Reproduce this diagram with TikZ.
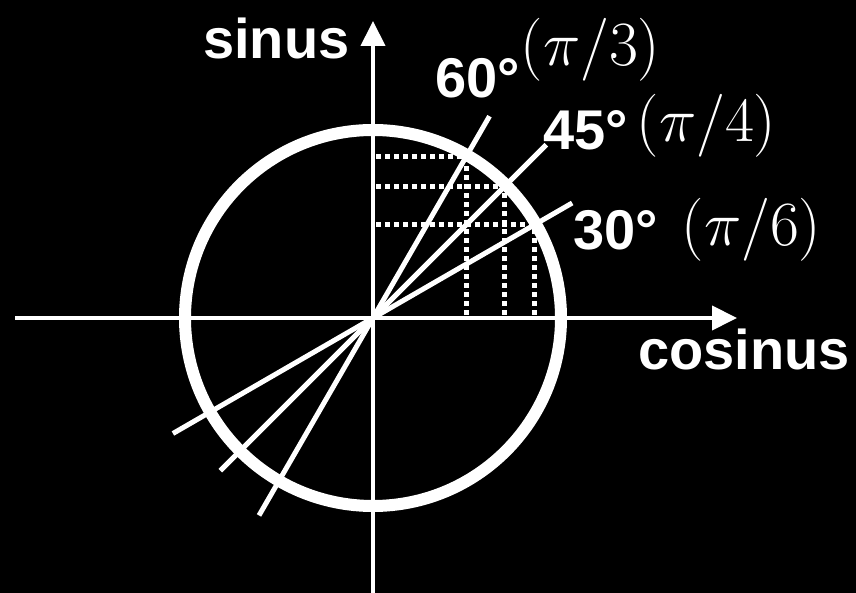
\RequirePackage{fix-cm}
\documentclass[tikz,border=0pt]{standalone}
\usepackage{fontspec}
\newfontfamily\hv{Liberation Sans}
\usetikzlibrary{arrows.meta}
\begin{document}
\begin{tikzpicture}[x=1pt,y=1pt,
  axis/.style={white,line width=4pt,-{Triangle[length=25pt,width=24pt]}},
  ray/.style={white,line width=5pt},
  dots/.style={white,line width=5pt,dash pattern=on 5pt off 4pt},
  lab/.style={text=white,inner sep=0pt,anchor=base west,font=\hv\bfseries\fontsize{56}{60}\selectfont},
  mlab/.style={text=white,inner sep=0pt,anchor=base west,font=\fontsize{63}{66}\selectfont}]
\fill[black] (0,0) rectangle (856,593);
\useasboundingbox (0,0) rectangle (856,593);
\coordinate (O) at (373,275);
% circle
\draw[white,line width=12pt] (O) circle (188);
% axes
\coordinate (xl) at (15,275);
\coordinate (xr) at (737,275);
\coordinate (yb) at (373,0);
\coordinate (yt) at (373,572);
\draw[axis] (xl) -- (xr);
\draw[axis] (yb) -- (yt);
% dotted projections
\foreach \a in {60,45,30}{
  \path (O) ++(\a:186) coordinate (P\a);
  \path (P\a |- O) coordinate (X\a);
  \path (O |- P\a) coordinate (Y\a);
  \draw[dots] ([xshift=3pt]Y\a) -- (P\a);
  \draw[dots] ([yshift=3pt]X\a) -- (P\a);
}
% rays
\path (O) ++(60:233) coordinate (a60);
\path (O) ++(240:228) coordinate (b60);
\path (O) ++(45:245) coordinate (a45);
\path (O) ++(225:216) coordinate (b45);
\path (O) ++(30:230) coordinate (a30);
\path (O) ++(210:231) coordinate (b30);
\draw[ray] (b60) -- (a60);
\draw[ray] (b45) -- (a45);
\draw[ray] (b30) -- (a30);
% labels
\node[lab] (sinus) at (203,534) {sinus};
\node[lab] (cosinus) at (638,223) {cosinus};
\node[lab] (l60) at (435,495) {60°};
\node[lab] (l45) at (543,443) {45°};
\node[lab] (l30) at (573,343) {30°};
\node[mlab] (m60) at (520.5,527.5) {$(\pi/3)$};
\node[mlab] (m45) at (636.5,451) {$(\pi/4)$};
\node[mlab] (m30) at (681.5,347) {$(\pi/6)$};
\end{tikzpicture}
\end{document}
